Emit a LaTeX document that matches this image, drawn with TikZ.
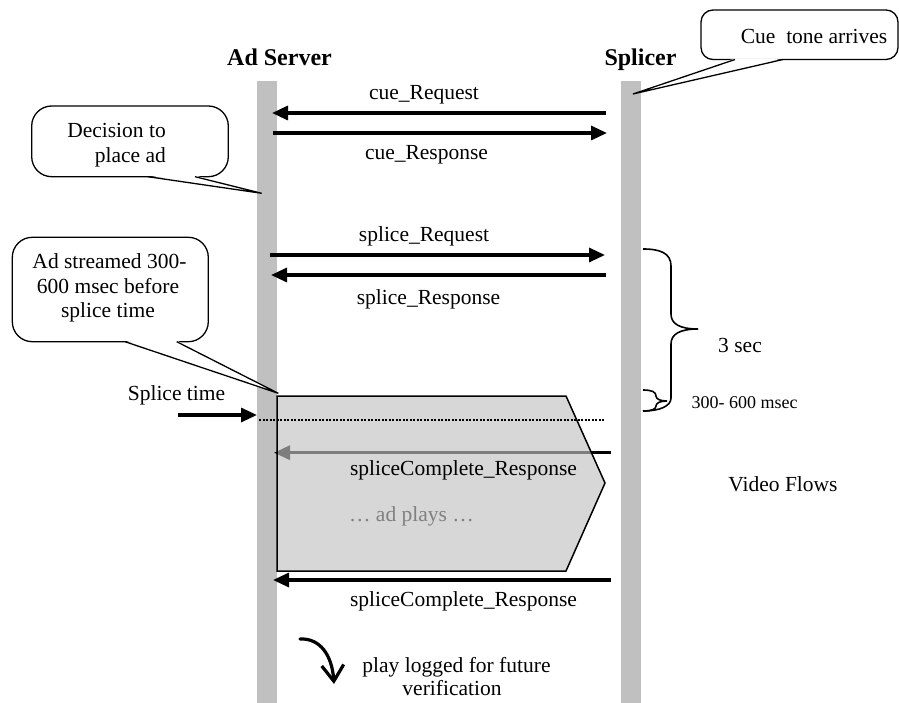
\documentclass[tikz,border=0pt]{standalone}
\usepackage{fontspec}
\setmainfont{Liberation Serif}
\usetikzlibrary{arrows.meta}
\definecolor{lifegray}{HTML}{C0C0C0}
\definecolor{fillgray}{HTML}{C3C3C3}
\definecolor{txtgray}{HTML}{808080}
\begin{document}
\begin{tikzpicture}[x=1pt,y=-1pt,
  lifeline/.style={fill=lifegray,draw=none,inner sep=0pt,minimum width=20pt,minimum height=622pt,anchor=north west},
  msg/.style={line width=3.2pt,-{Triangle[length=16pt,width=14pt]}},
  lbl/.style={font=\fontsize{21.5}{24}\selectfont,inner sep=0pt,anchor=base},
  hdr/.style={font=\fontsize{24}{28}\selectfont\bfseries,inner sep=0pt,anchor=base},
  small/.style={font=\fontsize{18}{21}\selectfont,inner sep=0pt,anchor=base},
  cbox/.style={draw,line width=1.3pt,fill=white,inner sep=0pt},
  tail/.style={line width=1.3pt},
  penta/.style={fill=fillgray,fill opacity=0.65,draw=black,line width=1.5pt},
  dotline/.style={line width=1.5pt,dash pattern=on 2pt off 1.5pt},
  bracestyle/.style={line width=1.6pt}]
\useasboundingbox (0,0) rectangle (899,703);
\fill[white] (0,0) rectangle (899,703);

% lifelines
\node[lifeline] (adsrv) at (257,81) {};
\node[lifeline] (splicer) at (621,81) {};
\node[hdr] (adlbl) at (279.5,66) {Ad Server};
\node[hdr] (splbl) at (640.5,66) {Splicer};

% message endpoints
\coordinate (cq1) at (606,113);   \coordinate (cq2) at (272,113);
\coordinate (cr1) at (273,133);   \coordinate (cr2) at (607,133);
\coordinate (sq1) at (270,255);   \coordinate (sq2) at (605,255);
\coordinate (sr1) at (606,275);   \coordinate (sr2) at (271,275);
\coordinate (gc1) at (611,452.7); \coordinate (gc2) at (274,452.7);
\coordinate (bc1) at (611,580);   \coordinate (bc2) at (273,580);
\coordinate (st1) at (178,415);   \coordinate (st2) at (257,415);

\draw[msg] (cq1) -- (cq2);
\draw[msg] (cr1) -- (cr2);
\draw[msg] (sq1) -- (sq2);
\draw[msg] (sr1) -- (sr2);
\draw[msg] (gc1) -- (gc2);
\draw[msg] (bc1) -- (bc2);
\draw[msg] (st1) -- (st2);

% ad pentagon
\coordinate (p1) at (277,396);
\coordinate (p2) at (566,396);
\coordinate (p3) at (605,483);
\coordinate (p4) at (566,571);
\coordinate (p5) at (277,571);
\filldraw[penta] (p1) -- (p2) -- (p3) -- (p4) -- (p5) -- cycle;

% dotted splice line
\coordinate (d1) at (259,420); \coordinate (d2) at (605,420);
\draw[dotline] (d1) -- (d2);

% message labels
\node[lbl] (lcq) at (424,99.5) {cue\_Request};
\node[lbl] (lcr) at (426.5,160) {cue\_Response};
\node[lbl] (lsq) at (424,242) {splice\_Request};
\node[lbl] (lsr) at (428.5,305) {splice\_Response};
\node[lbl] (lgc) at (463.5,475) {spliceComplete\_Response};
\node[lbl] (lbc) at (463.5,606) {spliceComplete\_Response};
\node[lbl,text=txtgray] (lplay) at (411.5,521) {… ad plays …};
\node[lbl] (llog1) at (456.5,672) {play logged for future};
\node[lbl] (llog2) at (452,695) {verification};
\node[lbl] (lst) at (176.5,400.7) {Splice time};
\node[lbl] (l3s) at (740,352.7) {3 sec};
\node[small] (l36) at (744.5,408) {300- 600 msec};
\node[lbl] (lvf) at (783,491) {Video Flows};

% braces
\draw[bracestyle] (643,249) .. controls (660,249) and (671,253) .. (671,266) -- (671,314)
  .. controls (671,324) and (680,329) .. (698,329)
  .. controls (680,329) and (671,334) .. (671,344) -- (671,398)
  .. controls (671,406) and (660,411) .. (643,411);
\draw[bracestyle] (643,390) .. controls (652,390) and (656,392) .. (656,396)
  .. controls (656,399) and (660,401) .. (667,401)
  .. controls (660,401) and (656,403) .. (656,406)
  .. controls (656,409) and (652,411) .. (643,411);

% curved arrow
\coordinate (la1) at (300,639); \coordinate (la2) at (334,684);
\draw[line width=3.2pt,line cap=round,-{Straight Barb[length=16pt,width=22pt,line width=3.2pt]}]
  (la1) .. controls (320,638) and (332,655) .. (la2);

% callout 1: cue tone
\node[cbox,rounded corners=12pt,minimum width=197pt,minimum height=49.5pt] (cb1) at (799.5,34.75) {};
\coordinate (t1a) at (735,59.5); \coordinate (t1b) at (783,59.5); \coordinate (t1c) at (633,94);
\fill[white] ([yshift=1.2pt]t1a) -- (t1c) -- ([yshift=1.2pt]t1b) -- cycle;
\draw[tail] (t1a) -- (t1c) -- (t1b);
\node[lbl] (tcb1) at (814,43.3) {Cue\ \ tone arrives};

% callout 2: decision
\node[cbox,rounded corners=20pt,minimum width=196.6pt,minimum height=70.7pt] (cb2) at (130,141.35) {};
\coordinate (t2a) at (148,176.7); \coordinate (t2b) at (195,176.7); \coordinate (t2c) at (261.7,193.3);
\fill[white] ([yshift=1.2pt]t2a) -- (t2c) -- ([yshift=1.2pt]t2b) -- cycle;
\draw[tail] (t2a) -- (t2c) -- (t2b);
\node[lbl,anchor=base east] (tcb2a) at (166,138) {Decision to};
\node[lbl,anchor=base east] (tcb2b) at (166,163) {place ad};

% callout 3: ad streamed
\node[cbox,rounded corners=20pt,minimum width=196pt,minimum height=104.4pt] (cb3) at (110.3,289.5) {};
\coordinate (t3a) at (125,341.7); \coordinate (t3b) at (176.7,341.7); \coordinate (t3c) at (278.3,393.3);
\fill[white] ([yshift=1.2pt]t3a) -- (t3c) -- ([yshift=1.2pt]t3b) -- cycle;
\draw[tail] (t3a) -- (t3c) -- (t3b);
\node[lbl] (tcb3a) at (109.5,269) {Ad streamed 300-};
\node[lbl] (tcb3b) at (108,293) {600 msec before};
\node[lbl] (tcb3c) at (108,317) {splice time};
\end{tikzpicture}
\end{document}
